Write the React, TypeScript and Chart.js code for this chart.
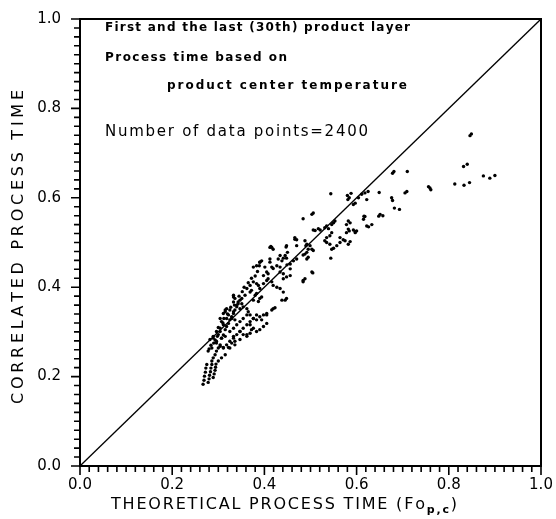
import { useEffect, useRef } from "react";
import { Chart, registerables } from "chart.js";

Chart.register(...registerables);

// ---- axis data ----
const axisTicks = [0, 0.2, 0.4, 0.6, 0.8, 1.0];
const minorStep = 0.02;
const parityLine = [
  [0, 0],
  [1, 1],
];

// ---- scatter data: [theoretical Fo_p,c, correlated process time] ----
const bottomStreaks = [
  [0.267, 0.183], [0.269, 0.192], [0.27, 0.201], [0.272, 0.21], [0.273, 0.219], [0.275, 0.227],
  [0.278, 0.187], [0.28, 0.195], [0.281, 0.203], [0.283, 0.211], [0.284, 0.219], [0.286, 0.227],
  [0.289, 0.198], [0.291, 0.206], [0.293, 0.214], [0.294, 0.221], [0.295, 0.228],
];

const lowerCluster = [
  [0.362, 0.397], [0.369, 0.389], [0.372, 0.393], [0.38, 0.382], [0.383, 0.386], [0.39, 0.375],
  [0.394, 0.378], [0.387, 0.368], [0.376, 0.371], [0.333, 0.382], [0.336, 0.375], [0.343, 0.367],
  [0.351, 0.363], [0.354, 0.356], [0.347, 0.352], [0.34, 0.36], [0.318, 0.352], [0.325, 0.349],
  [0.333, 0.345], [0.322, 0.338], [0.329, 0.33], [0.336, 0.327], [0.362, 0.352], [0.365, 0.345],
  [0.369, 0.338], [0.376, 0.33], [0.383, 0.327], [0.39, 0.334], [0.398, 0.338], [0.405, 0.341],
  [0.369, 0.316], [0.376, 0.308], [0.383, 0.301], [0.39, 0.305], [0.398, 0.312], [0.405, 0.319],
  [0.347, 0.301], [0.354, 0.294], [0.362, 0.29], [0.369, 0.297], [0.304, 0.33], [0.307, 0.323],
  [0.311, 0.316], [0.304, 0.308], [0.296, 0.301], [0.3, 0.294], [0.307, 0.286], [0.315, 0.29],
  [0.289, 0.286], [0.296, 0.275], [0.304, 0.268], [0.311, 0.265], [0.325, 0.301], [0.333, 0.29],
  [0.336, 0.279], [0.329, 0.275], [0.322, 0.265], [0.286, 0.235], [0.289, 0.242], [0.293, 0.249],
  [0.296, 0.257], [0.3, 0.264], [0.304, 0.271], [0.296, 0.279], [0.307, 0.286], [0.311, 0.293],
  [0.304, 0.301], [0.315, 0.305], [0.318, 0.312], [0.322, 0.319], [0.325, 0.327], [0.318, 0.33],
  [0.329, 0.334], [0.333, 0.341], [0.336, 0.349], [0.34, 0.356], [0.343, 0.363], [0.347, 0.371],
  [0.333, 0.367], [0.351, 0.375], [0.358, 0.382], [0.311, 0.264], [0.318, 0.271], [0.325, 0.279],
  [0.333, 0.286], [0.34, 0.294], [0.347, 0.301], [0.354, 0.308], [0.362, 0.316], [0.369, 0.323],
  [0.376, 0.33], [0.383, 0.338], [0.3, 0.235], [0.307, 0.242], [0.315, 0.249], [0.333, 0.308],
  [0.34, 0.316], [0.347, 0.323], [0.354, 0.33], [0.362, 0.338], [0.325, 0.264], [0.336, 0.271],
  [0.347, 0.283], [0.362, 0.294], [0.372, 0.305], [0.394, 0.327], [0.405, 0.338], [0.416, 0.349],
  [0.282, 0.283], [0.289, 0.29], [0.286, 0.264], [0.278, 0.257], [0.315, 0.345], [0.311, 0.341],
  [0.369, 0.404], [0.28, 0.262], [0.284, 0.27], [0.29, 0.275], [0.293, 0.282], [0.298, 0.29],
  [0.3, 0.31], [0.31, 0.32], [0.312, 0.33], [0.32, 0.34], [0.327, 0.355], [0.335, 0.36],
  [0.345, 0.38], [0.352, 0.39], [0.356, 0.4], [0.365, 0.41], [0.372, 0.42], [0.38, 0.425],
  [0.385, 0.435], [0.315, 0.349], [0.333, 0.378],
];

const middleBand = [
  [0.416, 0.489], [0.419, 0.485], [0.447, 0.49], [0.45, 0.478], [0.445, 0.471], [0.448, 0.465],
  [0.434, 0.471], [0.441, 0.465], [0.438, 0.459], [0.43, 0.463], [0.39, 0.456], [0.394, 0.459],
  [0.389, 0.448], [0.412, 0.456], [0.416, 0.445], [0.419, 0.442], [0.427, 0.448], [0.434, 0.445],
  [0.449, 0.45], [0.456, 0.452], [0.463, 0.459], [0.47, 0.463], [0.401, 0.445], [0.405, 0.434],
  [0.408, 0.43], [0.398, 0.426], [0.434, 0.434], [0.441, 0.43], [0.448, 0.423], [0.456, 0.426],
  [0.376, 0.412], [0.383, 0.408], [0.387, 0.404], [0.39, 0.397], [0.398, 0.408], [0.405, 0.415],
  [0.408, 0.419], [0.416, 0.412], [0.419, 0.404], [0.427, 0.4], [0.434, 0.397], [0.441, 0.389],
  [0.448, 0.375], [0.445, 0.371], [0.438, 0.371], [0.419, 0.352], [0.423, 0.354], [0.414, 0.491],
  [0.448, 0.493], [0.47, 0.493], [0.456, 0.441], [0.441, 0.419], [0.383, 0.448], [0.412, 0.463],
  [0.376, 0.445], [0.39, 0.456], [0.412, 0.489], [0.466, 0.511],
];

const upperBand = [
  [0.597, 0.524], [0.6, 0.526], [0.582, 0.548], [0.586, 0.544], [0.578, 0.54], [0.582, 0.53],
  [0.584, 0.526], [0.575, 0.504], [0.586, 0.502], [0.597, 0.588], [0.593, 0.585], [0.581, 0.596],
  [0.584, 0.6], [0.544, 0.609], [0.506, 0.566], [0.503, 0.563], [0.484, 0.553], [0.55, 0.544],
  [0.553, 0.548], [0.546, 0.54], [0.531, 0.533], [0.535, 0.537], [0.539, 0.531], [0.506, 0.528],
  [0.517, 0.531], [0.521, 0.528], [0.546, 0.522], [0.542, 0.515], [0.535, 0.511], [0.531, 0.504],
  [0.535, 0.5], [0.542, 0.496], [0.55, 0.487], [0.546, 0.485], [0.564, 0.511], [0.571, 0.506],
  [0.544, 0.465], [0.488, 0.504], [0.492, 0.496], [0.499, 0.493], [0.503, 0.485], [0.506, 0.482],
  [0.495, 0.485], [0.492, 0.478], [0.488, 0.474], [0.495, 0.467], [0.492, 0.463], [0.484, 0.472],
  [0.557, 0.493], [0.564, 0.5], [0.578, 0.522], [0.593, 0.528], [0.597, 0.522], [0.582, 0.496],
  [0.51, 0.527], [0.466, 0.507], [0.47, 0.506], [0.49, 0.493], [0.505, 0.432], [0.484, 0.415],
  [0.488, 0.419], [0.484, 0.412], [0.503, 0.434], [0.58, 0.605], [0.588, 0.61],
];

const farOutliers = [
  [0.849, 0.743], [0.846, 0.739], [0.832, 0.67], [0.84, 0.675], [0.875, 0.649], [0.889, 0.644],
  [0.9, 0.65], [0.813, 0.631], [0.833, 0.628], [0.845, 0.634], [0.756, 0.625], [0.761, 0.618],
  [0.759, 0.622], [0.71, 0.659], [0.678, 0.655], [0.681, 0.659], [0.705, 0.611], [0.709, 0.614],
  [0.676, 0.6], [0.678, 0.594], [0.682, 0.577], [0.693, 0.574], [0.649, 0.612], [0.651, 0.563],
  [0.648, 0.559], [0.657, 0.56], [0.618, 0.558], [0.615, 0.552], [0.626, 0.535], [0.633, 0.54],
  [0.622, 0.537], [0.622, 0.596], [0.625, 0.614], [0.618, 0.611], [0.611, 0.608], [0.604, 0.6],
  [0.616, 0.559],
];

// ---- text ----
const noteLines = [
  "First and the last (30th) product layer",
  "Process time based on",
  "product center temperature",
];
const countNote = "Number of data points=2400";
const yTitle = "CORRELATED PROCESS TIME";
const xTitleMain = "THEORETICAL PROCESS TIME (Fo";
const xTitleSub = "p,c";
const xTitleEnd = ")";

type Seg = { text: string; font: string; dy: number };

function drawStretched(ctx: CanvasRenderingContext2D, segs: Seg[], x: number, y: number, width: number) {
  let natural = 0;
  let count = 0;
  for (const s of segs) {
    ctx.font = s.font;
    for (const ch of s.text) {
      natural += ctx.measureText(ch).width;
      count++;
    }
  }
  const extra = count > 1 ? (width - natural) / (count - 1) : 0;
  let cx = x;
  for (const s of segs) {
    ctx.font = s.font;
    for (const ch of s.text) {
      ctx.fillText(ch, cx, y + s.dy);
      cx += ctx.measureText(ch).width + extra;
    }
  }
}

const decorPlugin = {
  id: "decor",
  afterDraw(chart: any) {
    const { ctx, chartArea } = chart;
    const xs = chart.scales.x;
    const ys = chart.scales.y;
    ctx.save();
    ctx.strokeStyle = "#000";
    // frame (top & right)
    ctx.lineWidth = 2;
    ctx.beginPath();
    ctx.moveTo(chartArea.left, chartArea.top);
    ctx.lineTo(chartArea.right, chartArea.top);
    ctx.lineTo(chartArea.right, chartArea.bottom);
    ctx.stroke();
    // all ticks (major longer, minor shorter)
    ctx.lineWidth = 1.6;
    const n = Math.round(1 / minorStep);
    ctx.beginPath();
    for (let i = 0; i <= n; i++) {
      const len = i % 10 === 0 ? 9 : 6;
      const v = i * minorStep;
      const px = xs.getPixelForValue(v);
      ctx.moveTo(px, chartArea.bottom);
      ctx.lineTo(px, chartArea.bottom + len);
      const py = ys.getPixelForValue(v);
      ctx.moveTo(chartArea.left - len, py);
      ctx.lineTo(chartArea.left, py);
    }
    ctx.stroke();

    // annotations
    ctx.fillStyle = "#000";
    ctx.textBaseline = "middle";
    ctx.textAlign = "left";
    const noteFont = "bold 12px 'DejaVu Sans'";
    drawStretched(ctx, [{ text: noteLines[0], font: noteFont, dy: 0 }], 105, 28, 305);
    drawStretched(ctx, [{ text: noteLines[1], font: noteFont, dy: 0 }], 105, 58, 182);
    drawStretched(ctx, [{ text: noteLines[2], font: noteFont, dy: 0 }], 167, 86, 240);
    drawStretched(ctx, [{ text: countNote, font: "15px 'DejaVu Sans'", dy: 0 }], 105, 132, 263);

    // x title with subscript
    const tf = "16px 'DejaVu Sans'";
    drawStretched(
      ctx,
      [
        { text: xTitleMain, font: tf, dy: 0 },
        { text: xTitleSub, font: "bold 11px 'DejaVu Sans'", dy: 5 },
        { text: xTitleEnd, font: tf, dy: 0 },
      ],
      111,
      505,
      346
    );
    // y title
    ctx.translate(19, 247);
    ctx.rotate(-Math.PI / 2);
    drawStretched(ctx, [{ text: yTitle, font: tf, dy: 0 }], -157, 0, 314);
    ctx.restore();
  },
};

const toPoints = (arr: number[][]) => arr.map(([x, y]) => ({ x, y }));

export default function App() {
  const ref = useRef<HTMLCanvasElement | null>(null);
  useEffect(() => {
    if (!ref.current) return;
    const scatterPts = toPoints([...bottomStreaks, ...lowerCluster, ...middleBand, ...upperBand, ...farOutliers]);
    const tickFont = { family: "'DejaVu Sans'", size: 15 };
    const chart = new Chart(ref.current, {
      type: "scatter",
      data: {
        datasets: [
          {
            type: "line",
            data: toPoints(parityLine),
            borderColor: "#000",
            borderWidth: 1.3,
            pointRadius: 0,
            fill: false,
          } as any,
          {
            data: scatterPts,
            backgroundColor: "#000",
            borderWidth: 0,
            pointRadius: 1.7,
          },
        ],
      },
      options: {
        animation: false,
        responsive: true,
        maintainAspectRatio: false,
        layout: { padding: { top: 14, right: 15, left: 0, bottom: 0 } },
        plugins: { legend: { display: false }, tooltip: { enabled: false } },
        scales: {
          x: {
            type: "linear",
            min: 0,
            max: 1,
            afterBuildTicks: (s: any) => {
              s.ticks = axisTicks.map((v) => ({ value: v }));
            },
            afterFit: (s: any) => {
              s.height = 53;
            },
            ticks: {
              color: "#000",
              font: tickFont,
              padding: 1,
              maxRotation: 0,
              callback: (v: any) => Number(v).toFixed(1),
            },
            grid: { drawOnChartArea: false, drawTicks: true, tickLength: 9, color: "rgba(0,0,0,0)" },
            border: { display: true, color: "#000", width: 2 },
          },
          y: {
            type: "linear",
            min: 0,
            max: 1,
            afterBuildTicks: (s: any) => {
              s.ticks = axisTicks.map((v) => ({ value: v }));
            },
            afterFit: (s: any) => {
              s.width = 80;
            },
            ticks: {
              color: "#000",
              font: tickFont,
              padding: 10,
              callback: (v: any) => Number(v).toFixed(1),
            },
            grid: { drawOnChartArea: false, drawTicks: true, tickLength: 9, color: "rgba(0,0,0,0)" },
            border: { display: true, color: "#000", width: 2 },
          },
        },
      },
      plugins: [decorPlugin],
    });
    return () => chart.destroy();
  }, []);
  return (
    <div style={{ position: "absolute", left: 0, top: 0, width: 556, height: 519, background: "#fff" }}>
      <canvas ref={ref} />
    </div>
  );
}
